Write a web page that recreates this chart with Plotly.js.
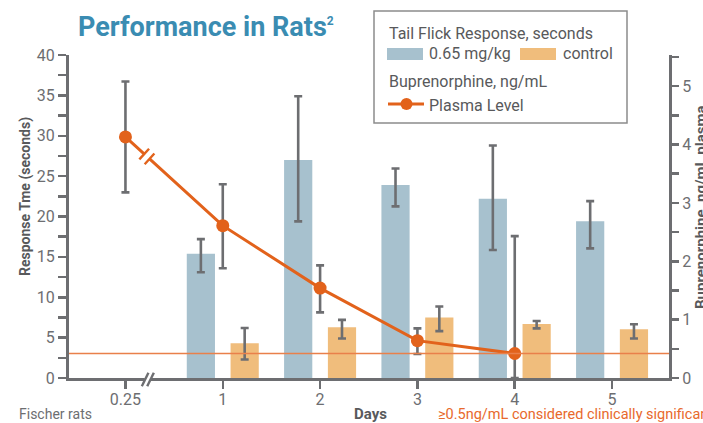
<!DOCTYPE html>
<html><head><meta charset="utf-8">
<script src="https://cdn.plot.ly/plotly-3.0.1.min.js"></script>
<style>html,body{margin:0;padding:0;background:#fff}#chart{width:703px;height:423px}</style>
</head><body><div id="chart"></div>
<script>
// ---- data ----
const dayLabels = ['0.25', '1', '2', '3', '4', '5'];
const barDays = ['1', '2', '3', '4', '5'];
const doseMean = [15.4, 27.0, 23.9, 22.2, 19.4];
const doseErrPlus = [1.8, 7.9, 2.05, 6.6, 2.5];
const doseErrMinus = [2.3, 7.6, 2.65, 6.35, 3.35];
const controlMean = [4.3, 6.3, 7.5, 6.7, 6.05];
const controlErrPlus = [1.9, 0.9, 1.35, 0.35, 0.6];
const controlErrMinus = [2.0, 1.4, 1.7, 0.55, 1.15];
const plasmaDays = ['0.25', '1', '2', '3', '4'];
const plasmaMean = [4.13, 2.61, 1.54, 0.64, 0.42];
const plasmaErrPlus = [0.95, 0.71, 0.39, 0.21, 2.01];
const plasmaErrMinus = [0.95, 0.73, 0.415, 0.23, 0.42];
const thresholdLevel = 0.42;

// ---- styling ----
const W = 703, H = 423;
const L = 69, R = 669, T = 55, B = 378;
const PW = R - L, PH = B - T;
const xRange = [-0.58, 5.585];
const yRange = [0, 40];
const y2Range = [0, 5.534];
const axisGray = '#6d6e71';
const tickGray = '#6d6e71';
const textDark = '#58595b';
const blue = '#a7c1ce';
const orange = '#f0bd7c';
const lineOrange = '#e2621b';
const FONT = 'Roboto, "Open Sans", sans-serif';
const xp = px => (px - L) / PW;
const yp = py => (B - py) / PH;

const errStyle = (plus, minus) => ({type: 'data', symmetric: false, array: plus, arrayminus: minus,
  color: axisGray, thickness: 2.6, width: 4});

const traces = [
  {type: 'bar', name: '0.65 mg/kg', x: barDays, y: doseMean, marker: {color: blue},
   error_y: errStyle(doseErrPlus, doseErrMinus), hoverinfo: 'skip'},
  {type: 'bar', name: 'control', x: barDays, y: controlMean, marker: {color: orange},
   error_y: errStyle(controlErrPlus, controlErrMinus), hoverinfo: 'skip'},
  {type: 'scatter', mode: 'lines+markers', name: 'Plasma Level', x: plasmaDays, y: plasmaMean,
   yaxis: 'y2', line: {color: lineOrange, width: 3}, marker: {color: lineOrange, size: 13},
   error_y: errStyle(plasmaErrPlus, plasmaErrMinus), cliponaxis: true, hoverinfo: 'skip'}
];

// break mark on the plasma line, between first two points
const pxPerX = PW / (xRange[1] - xRange[0]);
const pxPerY2 = PH / (y2Range[1] - y2Range[0]);
const tb = 0.22;
const bx = tb;
const by = plasmaMean[0] + tb * (plasmaMean[1] - plasmaMean[0]);
let ux = pxPerX, uy = (plasmaMean[0] - plasmaMean[1]) * pxPerY2; // screen, down positive
const ul = Math.hypot(ux, uy); ux /= ul; uy /= ul;
const px_ = uy, py_ = -ux; // perpendicular (screen)
const sep = 3.6, half = 7.2;
function strokeShape(sign, color, width, isGap) {
  let x0, y0, x1, y1;
  if (isGap) {
    x0 = -sep * ux; y0 = -sep * uy; x1 = sep * ux; y1 = sep * uy;
  } else {
    const cx = sign * sep * ux, cy = sign * sep * uy;
    x0 = cx - half * px_; y0 = cy - half * py_; x1 = cx + half * px_; y1 = cy + half * py_;
  }
  return {type: 'line', xref: 'x', yref: 'y2', xsizemode: 'pixel', ysizemode: 'pixel',
    xanchor: bx, yanchor: by, x0: x0, x1: x1, y0: -y0, y1: -y1,
    line: {color: color, width: width}, layer: 'above'};
}
// axis break on x axis
const abx = 0.23;
function axisBreak() {
  const s = [];
  s.push({type: 'line', xref: 'x', yref: 'paper', xsizemode: 'pixel', ysizemode: 'pixel',
    xanchor: abx, yanchor: 0, x0: -3, x1: 3, y0: -1.5, y1: -1.5,
    line: {color: '#ffffff', width: 5}, layer: 'above'});
  [-2.7, 2.7].forEach(c => s.push({type: 'line', xref: 'x', yref: 'paper', xsizemode: 'pixel', ysizemode: 'pixel',
    xanchor: abx, yanchor: 0, x0: c - 3.3, x1: c + 3.3, y0: -8.2, y1: 5.2,
    line: {color: axisGray, width: 2.4}, layer: 'above'}));
  return s;
}

const shapes = [
  {type: 'line', xref: 'paper', yref: 'y2', x0: 0, x1: 1, y0: thresholdLevel, y1: thresholdLevel,
   line: {color: '#e9804a', width: 1.6}, layer: 'above'},
  strokeShape(0, '#ffffff', 6, true),
  strokeShape(-1, lineOrange, 2.4, false),
  strokeShape(1, lineOrange, 2.4, false),
  ...axisBreak(),
  // legend box
  {type: 'rect', xref: 'paper', yref: 'paper', x0: xp(374), x1: xp(627), y0: yp(123), y1: yp(11),
   line: {color: '#8c8c8c', width: 1.5}, fillcolor: 'rgba(0,0,0,0)'},
  {type: 'rect', xref: 'paper', yref: 'paper', x0: xp(387), x1: xp(423), y0: yp(60), y1: yp(48),
   line: {width: 0}, fillcolor: blue},
  {type: 'rect', xref: 'paper', yref: 'paper', x0: xp(520), x1: xp(556), y0: yp(60), y1: yp(48),
   line: {width: 0}, fillcolor: orange},
  {type: 'line', xref: 'paper', yref: 'paper', x0: xp(388), x1: xp(424), y0: yp(104), y1: yp(104),
   line: {color: lineOrange, width: 3}},
  {type: 'circle', xref: 'paper', yref: 'paper', x0: xp(400.5), x1: xp(412.5), y0: yp(110), y1: yp(98),
   line: {width: 0}, fillcolor: lineOrange}
];

const ann = (text, x, y, opts) => Object.assign({text: text, xref: 'paper', yref: 'paper', x: xp(x), y: yp(y),
  showarrow: false, xanchor: 'left', yanchor: 'middle', font: {family: FONT, size: 16, color: textDark}}, opts || {});

const annotations = [
  ann('Performance in Rats<sup><span style="font-size:12px">2</span></sup>', 76, 27,
    {font: {family: FONT, size: 27, color: '#3a8cb2', weight: 700}}),
  ann('Tail Flick Response, seconds', 387, 33),
  ann('0.65 mg/kg', 427, 54),
  ann('control', 561, 54),
  ann('Buprenorphine, ng/mL', 387, 82),
  ann('Plasma Level', 427, 105),
  ann('Response Tme (seconds)', 25, 197, {xanchor: 'center', textangle: -90,
    font: {family: FONT, size: 14, color: textDark, weight: 700}}),
  ann('Buprenorphine, ng/mL plasma', 701, 207, {xanchor: 'center', textangle: -90,
    font: {family: FONT, size: 15, color: textDark, weight: 700}}),
  ann('Fischer rats', 17, 414, {font: {family: FONT, size: 14, color: tickGray}}),
  ann('Days', 370, 414, {xanchor: 'center', font: {family: FONT, size: 15, color: textDark, weight: 700}}),
  ann('≥0.5ng/mL considered clinically significant', 436, 414, {font: {family: FONT, size: 14.5, color: '#e8692c'}})
];

const tickCommon = {ticks: 'outside', ticklen: 8, tickwidth: 2.5, tickcolor: axisGray,
  showline: true, linecolor: axisGray, linewidth: 3, showgrid: false, zeroline: false,
  tickfont: {family: FONT, size: 16, color: tickGray}, fixedrange: true};

const layout = {
  width: W, height: H, margin: {l: L, r: W - R, t: T, b: H - B, pad: 0},
  paper_bgcolor: '#ffffff', plot_bgcolor: '#ffffff', showlegend: false,
  barmode: 'group', bargap: 0.1, bargroupgap: 0.356,
  font: {family: FONT, color: tickGray, size: 16},
  xaxis: Object.assign({}, tickCommon, {type: 'category', categoryorder: 'array', categoryarray: dayLabels,
    range: xRange, ticklabelstandoff: -3}),
  yaxis: Object.assign({}, tickCommon, {range: yRange, tick0: 0, dtick: 5,
    minor: {dtick: 2.5, ticks: 'outside', ticklen: 8, tickwidth: 2.5, tickcolor: axisGray}}),
  yaxis2: Object.assign({}, tickCommon, {overlaying: 'y', side: 'right', range: y2Range, tick0: 0, dtick: 1,
    ticklen: 7, minor: {dtick: 0.5, ticks: 'outside', ticklen: 7, tickwidth: 2.5, tickcolor: axisGray}}),
  shapes: shapes,
  annotations: annotations
};

Plotly.newPlot('chart', traces, layout, {staticPlot: true, displayModeBar: false});
</script>
</body></html>
